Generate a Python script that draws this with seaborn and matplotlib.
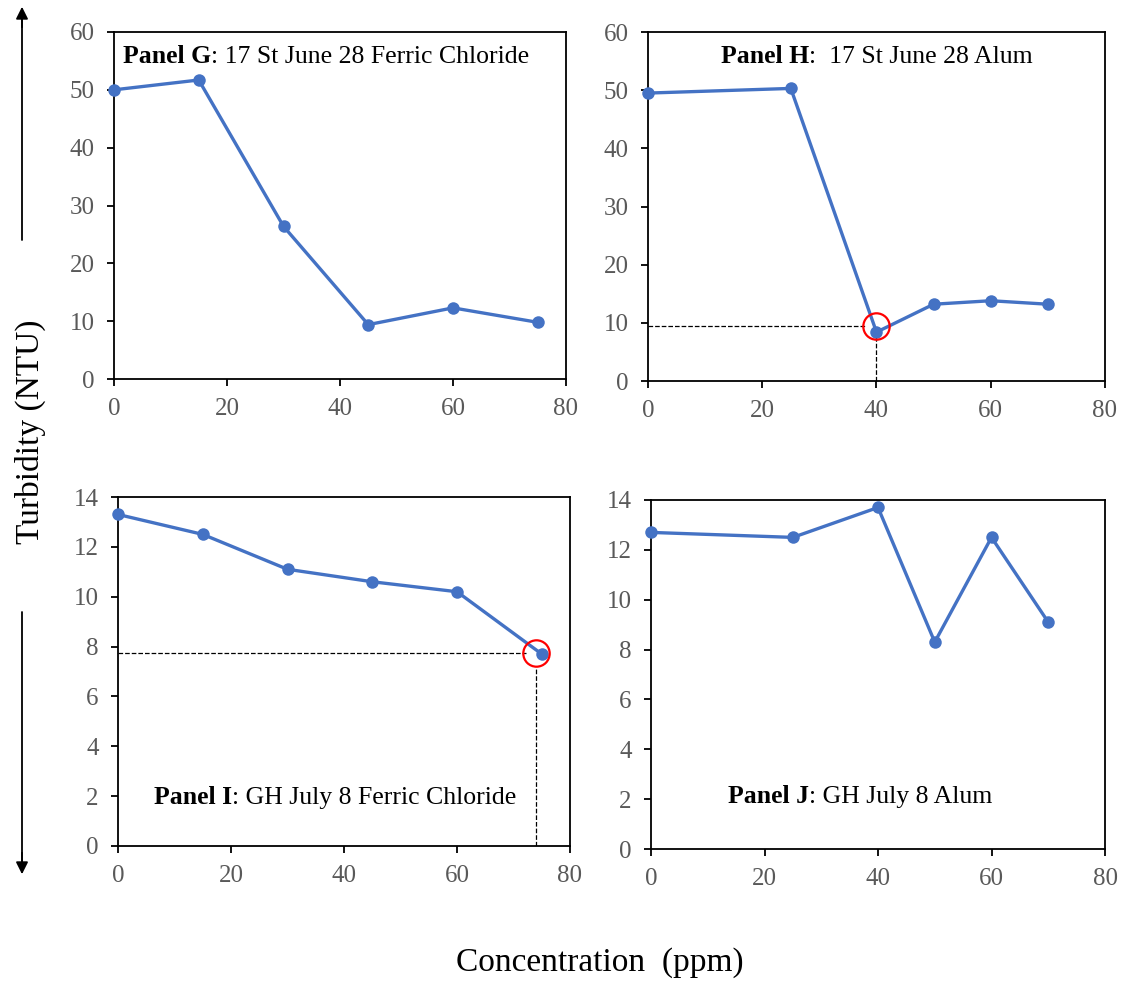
import numpy as np
import pandas as pd
import matplotlib
matplotlib.use('Agg')
import matplotlib.pyplot as plt
import seaborn as sns
from matplotlib.offsetbox import TextArea, HPacker, AnnotationBbox

# data
conc_fe = [0, 15, 30, 45, 60, 75]
conc_al = [0, 25, 40, 50, 60, 70]
turb_g = [50.0, 51.7, 26.4, 9.4, 12.3, 9.8]
turb_h = [49.5, 50.3, 8.4, 13.2, 13.8, 13.2]
turb_i = [13.3, 12.5, 11.1, 10.6, 10.2, 7.7]
turb_j = [12.7, 12.5, 13.7, 8.3, 12.5, 9.1]

panel_bold = ['Panel G', 'Panel H', 'Panel I', 'Panel J']
panel_rest = [': 17 St June 28 Ferric Chloride', ':  17 St June 28 Alum',
              ': GH July 8 Ferric Chloride', ': GH July 8 Alum']

# optimum points marked with red circles (x, y)
opt_h = (40, 9.5)
opt_i = (74, 7.75)

sns.set_theme(style='white')
plt.rcParams['font.family'] = ['Liberation Serif', 'DejaVu Serif']

blue = '#4472C4'
fig = plt.figure(figsize=(11.25, 9.82), dpi=100)
W, H = 1125, 982

def add_ax(l, t, r, b):
    return fig.add_axes([l / W, 1 - b / H, (r - l) / W, (b - t) / H])

axG = add_ax(114, 32, 566, 379)
axH = add_ax(648, 32, 1105, 381)
axI = add_ax(118, 497, 570, 846)
axJ = add_ax(651, 500, 1105, 849)

panels = [
    (axG, conc_fe, turb_g, 60, 10, (0.02, 0.93), 'left'),
    (axH, conc_al, turb_h, 60, 10, (0.5, 0.93), 'center'),
    (axI, conc_fe, turb_i, 14, 2, (0.48, 0.14), 'center'),
    (axJ, conc_al, turb_j, 14, 2, (0.46, 0.15), 'center'),
]

for k, (ax, xs, ys, ymax, ystep, pos, ha) in enumerate(panels):
    df = pd.DataFrame({'conc': xs, 'turb': ys})
    sns.lineplot(data=df, x='conc', y='turb', ax=ax, color=blue, marker='o',
                 markersize=9, markeredgewidth=0, linewidth=2.4, clip_on=False,
                 zorder=5)
    ax.set_xlim(0, 80)
    ax.set_ylim(0, ymax)
    ax.set_xticks(np.arange(0, 81, 20))
    ax.set_yticks(np.arange(0, ymax + 1, ystep))
    ax.set_xlabel('')
    ax.set_ylabel('')
    for s in ax.spines.values():
        s.set_color('black')
        s.set_linewidth(1.3)
    ax.tick_params(axis='both', which='both', direction='out', length=5,
                   width=1.3, color='black', labelcolor='#595959',
                   labelsize=18, bottom=True, left=True)
    ax.tick_params(axis='x', pad=9)
    ax.tick_params(axis='y', pad=9)
    box = HPacker(children=[
        TextArea(panel_bold[k], textprops=dict(fontweight='bold', fontsize=18.5,
                                              color='black')),
        TextArea(panel_rest[k], textprops=dict(fontsize=18.5, color='black')),
    ], align='baseline', pad=0, sep=0)
    align = (0, 0.5) if ha == 'left' else (0.5, 0.5)
    ab = AnnotationBbox(box, pos, xycoords='axes fraction', frameon=False,
                        box_alignment=align)
    ax.add_artist(ab)

# guide lines to the optimum in panels H and I
axH.plot([0, 38], [opt_h[1], opt_h[1]], ls='--', color='black', lw=0.9)
axH.plot([opt_h[0], opt_h[0]], [0, 7.6], ls='--', color='black', lw=0.9)
axH.plot(opt_h[0], opt_h[1], marker='o', markersize=19, markerfacecolor='none',
         markeredgecolor='red', markeredgewidth=1.6, zorder=6)

axI.plot([0, 72.2], [opt_i[1], opt_i[1]], ls='--', color='black', lw=0.9)
axI.plot([opt_i[0], opt_i[0]], [0, 7.1], ls='--', color='black', lw=0.9)
axI.plot(opt_i[0], opt_i[1], marker='o', markersize=19, markerfacecolor='none',
         markeredgecolor='red', markeredgewidth=1.6, zorder=6)

# shared axis labels and arrows
fig.text(30 / W, 1 - 432 / H, 'Turbidity (NTU)', rotation=90, ha='center',
         va='center', fontsize=24, color='black')
fig.text(600 / W, 1 - 963 / H, 'Concentration  (ppm)', ha='center',
         va='center', fontsize=24, color='black')
fig.add_artist(plt.Line2D([22 / W, 22 / W], [1 - 240 / H, 1 - 15 / H], color='black', lw=1.3))
fig.add_artist(plt.Line2D([22 / W, 22 / W], [1 - 612 / H, 1 - 865 / H], color='black', lw=1.3))
axG.annotate('', xy=(22 / W, 1 - 4 / H), xytext=(22 / W, 1 - 30 / H),
             xycoords='figure fraction', textcoords='figure fraction',
             arrowprops=dict(arrowstyle='-|>', color='black', lw=1.3, mutation_scale=18))
axG.annotate('', xy=(22 / W, 1 - 877 / H), xytext=(22 / W, 1 - 850 / H),
             xycoords='figure fraction', textcoords='figure fraction',
             arrowprops=dict(arrowstyle='-|>', color='black', lw=1.3, mutation_scale=18))

fig.savefig('out.png', dpi=100, facecolor='white')
